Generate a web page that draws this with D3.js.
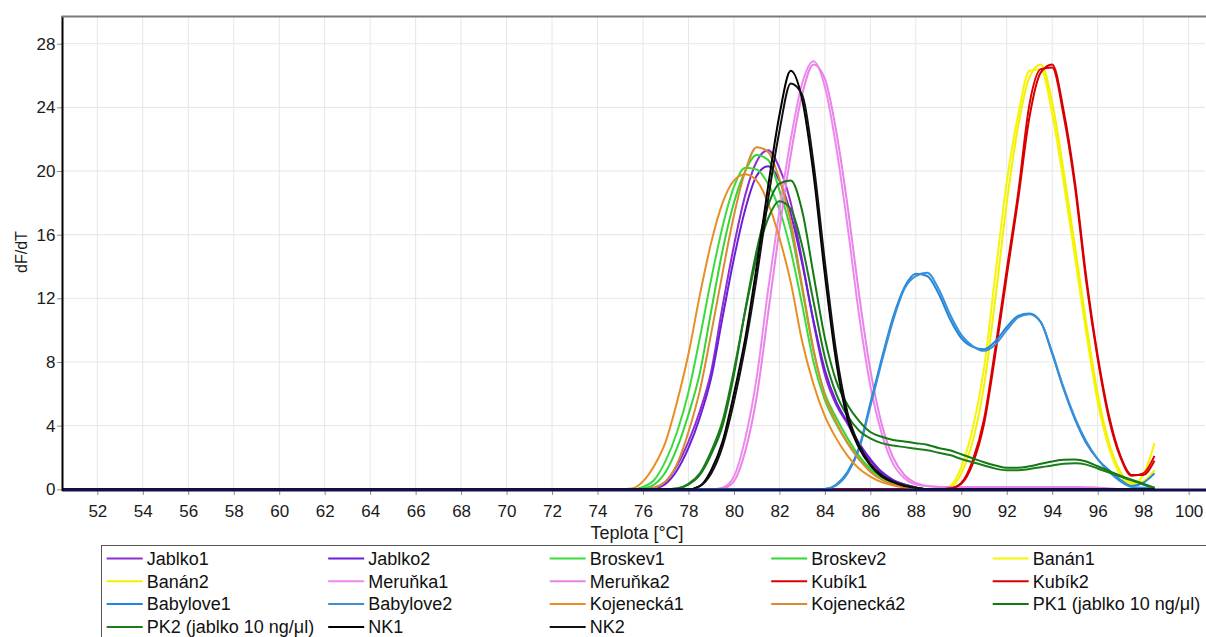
<!DOCTYPE html>
<html>
<head>
<meta charset="utf-8">
<script src="https://cdn.jsdelivr.net/npm/d3@7"></script>
<style>
  body { margin: 0; background: #fff; }
  svg { display: block; font-family: "Liberation Sans", Arial, sans-serif; }
</style>
</head>
<body>
<div id="chart"></div>
<script>
// melt curve samples, every 0.5 °C from 74 to 98.5 (flat zero before that)
const scanStart = 50.5;
const temps = [74, 74.5, 75, 75.5, 76, 76.5, 77, 77.5, 78, 78.5,
  79, 79.5, 80, 80.5, 81, 81.5, 82, 82.5, 83, 83.5,
  84, 84.5, 85, 85.5, 86, 86.5, 87, 87.5, 88, 88.5,
  89, 89.5, 90, 90.5, 91, 91.5, 92, 92.5, 93, 93.5,
  94, 94.5, 95, 95.5, 96, 96.5, 97, 97.5, 98, 98.5];

const names = ["Jablko1", "Jablko2", "Broskev1", "Broskev2", "Banán1",
  "Banán2", "Meruňka1", "Meruňka2", "Kubík1", "Kubík2",
  "Babylove1", "Babylove2", "Kojenecká1", "Kojenecká2", "PK1 (jablko 10 ng/μl)",
  "PK2 (jablko 10 ng/μl)", "NK1", "NK2"];

const colors = ["#8f2fd0", "#6a1fd8", "#3cdc3c", "#33d633", "#f6f600",
  "#f2f200", "#ee88ee", "#e883e8", "#e00000", "#d60000",
  "#1f86e0", "#3a90d6", "#e88e22", "#dc8a30", "#127a12",
  "#1c7c1c", "#000000", "#111111"];

const jablko1 = [0, 0, 0, 0, 0, 0.1, 0.5, 1.5, 3.0, 4.9,
  7.4, 11.5, 15.3, 18.5, 20.6, 21.3, 20.2, 18, 14.4, 10.5,
  7.2, 5.3, 4.1, 2.8, 1.8, 1.0, 0.55, 0.3, 0.12, 0,
  0, 0, 0, 0, 0, 0, 0, 0, 0, 0,
  0, 0, 0, 0, 0, 0, 0, 0, 0, 0];
const jablko2 = [0, 0, 0, 0, 0, 0.05, 0.35, 1.2, 2.6, 4.5,
  7.0, 10.8, 14.5, 17.6, 19.7, 20.3, 19.4, 17.3, 14.2, 10.6,
  7.5, 5.5, 4.2, 2.9, 1.9, 1.1, 0.6, 0.3, 0.12, 0,
  0, 0, 0, 0, 0, 0, 0, 0, 0, 0,
  0, 0, 0, 0, 0, 0, 0, 0, 0, 0];
const broskev1 = [0, 0, 0, 0, 0.15, 0.6, 1.8, 3.6, 6.1, 9.5,
  13.2, 16.5, 19, 20.2, 20.1, 19.2, 17.6, 15.0, 11.6, 8.0,
  5.6, 4.1, 2.9, 1.9, 1.2, 0.7, 0.4, 0.2, 0.1, 0,
  0, 0, 0, 0, 0, 0, 0, 0, 0, 0,
  0, 0, 0, 0, 0, 0, 0, 0, 0, 0];
const broskev2 = [0, 0, 0, 0, 0.05, 0.3, 1.1, 2.6, 4.7, 7.3,
  11.2, 15, 18, 20, 21, 20.7, 18.8, 16.3, 12.6, 8.7,
  6.0, 4.5, 3.2, 2.1, 1.3, 0.8, 0.45, 0.25, 0.1, 0,
  0, 0, 0, 0, 0, 0, 0, 0, 0, 0,
  0, 0, 0, 0, 0, 0, 0, 0, 0, 0];
const banan1 = [0, 0, 0, 0, 0, 0, 0, 0, 0, 0,
  0, 0, 0, 0, 0, 0, 0, 0, 0, 0,
  0, 0, 0, 0, 0, 0, 0, 0, 0, 0,
  0, 0.2, 1.4, 3.8, 7.6, 13.5, 19.3, 23.5, 26.3, 26.4,
  23.6, 19.3, 14.6, 9.8, 5.5, 2.6, 0.9, 0.3, 0.9, 2.9];
const banan2 = [0, 0, 0, 0, 0, 0, 0, 0, 0, 0,
  0, 0, 0, 0, 0, 0, 0, 0, 0, 0,
  0, 0, 0, 0, 0, 0, 0, 0, 0, 0,
  0, 0.1, 1.0, 3.0, 6.5, 12, 18, 22.8, 25.9, 26.7,
  24.3, 20, 15.3, 10.4, 6.0, 2.9, 1.1, 0.4, 0.5, 1.2];
const merunka1 = [0, 0, 0, 0, 0, 0, 0, 0, 0, 0,
  0, 0.1, 0.8, 3.2, 7.0, 12.5, 17.5, 22, 25.5, 26.9,
  25.3, 21.5, 16.5, 11, 6.5, 3.5, 1.6, 0.7, 0.3, 0.2,
  0.15, 0.15, 0.15, 0.15, 0.15, 0.15, 0.15, 0.15, 0.15, 0.15,
  0.15, 0.15, 0.15, 0.12, 0.1, 0.05, 0, 0, 0, 0];
const merunka2 = [0, 0, 0, 0, 0, 0, 0, 0, 0, 0,
  0, 0.05, 0.5, 2.4, 5.8, 11, 16.3, 21, 24.8, 26.7,
  25.8, 22.5, 17.8, 12.3, 7.5, 4.1, 2, 0.9, 0.4, 0.2,
  0.15, 0.15, 0.15, 0.15, 0.15, 0.15, 0.15, 0.15, 0.15, 0.15,
  0.15, 0.15, 0.15, 0.12, 0.1, 0.05, 0, 0, 0, 0];
const kubik1 = [0, 0, 0, 0, 0, 0, 0, 0, 0, 0,
  0, 0, 0, 0, 0, 0, 0, 0, 0, 0,
  0, 0, 0, 0, 0, 0, 0, 0, 0, 0,
  0, 0.05, 0.4, 1.8, 4.4, 8.9, 13.8, 18.6, 24.2, 26.4,
  26.5, 23.5, 19, 13, 8.2, 4.4, 2.0, 0.85, 1.0, 2.1];
const kubik2 = [0, 0, 0, 0, 0, 0, 0, 0, 0, 0,
  0, 0, 0, 0, 0, 0, 0, 0, 0, 0,
  0, 0, 0, 0, 0, 0, 0, 0, 0, 0,
  0, 0.05, 0.35, 1.6, 4.1, 8.5, 13.4, 18.2, 23.4, 26.2,
  26.7, 23.8, 19.3, 13.3, 8.4, 4.6, 2.1, 0.9, 0.9, 1.8];
const babylove1 = [0, 0, 0, 0, 0, 0, 0, 0, 0, 0,
  0, 0, 0, 0, 0, 0, 0, 0, 0, 0,
  0.02, 0.3, 1.1, 2.6, 5.4, 8.2, 10.8, 12.7, 13.55, 13.4,
  12.3, 10.7, 9.5, 8.95, 8.8, 9.3, 10.2, 10.9, 11.05, 10.5,
  8.5, 6.3, 4.4, 2.9, 1.9, 1.2, 0.6, 0.2, 0.4, 1.0];
const babylove2 = [0, 0, 0, 0, 0, 0, 0, 0, 0, 0,
  0, 0, 0, 0, 0, 0, 0, 0, 0, 0,
  0.02, 0.25, 1.0, 2.5, 5.2, 8.0, 10.6, 12.6, 13.4, 13.6,
  12.6, 11.0, 9.7, 9.0, 8.7, 9.1, 10.0, 10.8, 11.0, 10.5,
  8.6, 6.4, 4.5, 3.0, 1.9, 1.1, 0.5, 0.15, 0.1, 0.1];
const kojenecka1 = [0, 0, 0, 0.05, 0.5, 1.5, 3.0, 5.5, 8.5, 12.2,
  15.5, 18, 19.4, 19.8, 19.4, 18, 15.8, 13, 9.3, 6.6,
  4.6, 3.2, 2.1, 1.3, 0.8, 0.45, 0.25, 0.12, 0.05, 0,
  0, 0, 0, 0, 0, 0, 0, 0, 0, 0,
  0, 0, 0, 0, 0, 0, 0, 0, 0, 0];
const kojenecka2 = [0, 0, 0, 0, 0, 0.1, 0.5, 1.6, 3.6, 6.2,
  9.8, 13.6, 17.2, 20, 21.5, 21.2, 19.5, 16.8, 12.8, 8.8,
  5.9, 4.2, 2.9, 1.9, 1.1, 0.6, 0.3, 0.15, 0.05, 0,
  0, 0, 0, 0, 0, 0, 0, 0, 0, 0,
  0, 0, 0, 0, 0, 0, 0, 0, 0, 0];
const pk1 = [0, 0, 0, 0, 0, 0, 0, 0.05, 0.3, 0.9,
  2.2, 4.0, 7.2, 11.3, 15, 17.8, 19.2, 19.4, 17.5, 13.5,
  9.5, 6.8, 5.3, 4.3, 3.6, 3.3, 3.1, 3.0, 2.9, 2.8,
  2.6, 2.45, 2.2, 1.95, 1.7, 1.5, 1.35, 1.35, 1.45, 1.6,
  1.75, 1.85, 1.88, 1.75, 1.45, 1.15, 0.85, 0.6, 0.35, 0.1];
const pk2 = [0, 0, 0, 0, 0, 0, 0, 0.05, 0.35, 1.0,
  2.4, 4.3, 7.5, 11.2, 14.6, 17, 18.1, 17.6, 15.3, 11.8,
  8.3, 6.0, 4.6, 3.7, 3.2, 2.9, 2.75, 2.65, 2.55, 2.45,
  2.3, 2.15, 1.9, 1.7, 1.5, 1.3, 1.2, 1.2, 1.28, 1.38,
  1.5, 1.6, 1.63, 1.55, 1.3, 1.05, 0.8, 0.55, 0.3, 0.08];
const nk1 = [0, 0, 0, 0, 0, 0, 0, 0, 0, 0.2,
  1.2, 3, 6, 9.5, 14, 19, 23.5, 26.3, 24.5, 19.8,
  13.5, 8, 4.4, 2.6, 1.5, 0.8, 0.45, 0.2, 0.1, 0,
  0, 0, 0, 0, 0, 0, 0, 0, 0, 0,
  0, 0, 0, 0, 0, 0, 0, 0, 0, 0];
const nk2 = [0, 0, 0, 0, 0, 0, 0, 0, 0, 0.2,
  1.0, 2.7, 5.5, 9, 13.3, 18.2, 22.5, 25.5, 24.8, 20.5,
  14.3, 8.6, 4.8, 2.8, 1.6, 0.9, 0.5, 0.25, 0.1, 0,
  0, 0, 0, 0, 0, 0, 0, 0, 0, 0,
  0, 0, 0, 0, 0, 0, 0, 0, 0, 0];

const seriesValues = [jablko1, jablko2, broskev1, broskev2, banan1,
  banan2, merunka1, merunka2, kubik1, kubik2,
  babylove1, babylove2, kojenecka1, kojenecka2, pk1,
  pk2, nk1, nk2];

const xTicks = [52, 54, 56, 58, 60, 62, 64, 66, 68, 70, 72, 74, 76,
  78, 80, 82, 84, 86, 88, 90, 92, 94, 96, 98, 100];
const yTicks = [0, 4, 8, 12, 16, 20, 24, 28];

const width = 1206, height = 637;
const plot = { left: 63, right: 1205, top: 16, bottom: 489.3 };

const svg = d3.select("#chart").append("svg")
  .attr("width", width)
  .attr("height", height);

const x = d3.scaleLinear().domain([50.49, 100.72]).range([plot.left, plot.right]);
const y = d3.scaleLinear().domain([0, 29.74]).range([plot.bottom, plot.top]);

svg.append("defs").append("clipPath").attr("id", "clip")
  .append("rect")
  .attr("x", plot.left).attr("y", plot.top)
  .attr("width", plot.right - plot.left)
  .attr("height", plot.bottom - plot.top + 4);

// grid
svg.append("g").selectAll("line").data(xTicks).join("line")
  .attr("x1", d => x(d)).attr("x2", d => x(d))
  .attr("y1", plot.top).attr("y2", plot.bottom)
  .attr("stroke", "#e6e6e6").attr("stroke-width", 1);
svg.append("g").selectAll("line").data(yTicks.filter(d => d > 0)).join("line")
  .attr("x1", plot.left).attr("x2", plot.right)
  .attr("y1", d => y(d)).attr("y2", d => y(d))
  .attr("stroke", "#e6e6e6").attr("stroke-width", 1);

// axes
const xAxis = svg.append("g")
  .attr("transform", `translate(0,${plot.bottom + 0.7})`)
  .call(d3.axisBottom(x).tickValues(xTicks).tickSize(5).tickPadding(10));
const yAxis = svg.append("g")
  .attr("transform", `translate(${plot.left},0)`)
  .call(d3.axisLeft(y).tickValues(yTicks).tickSize(6).tickPadding(1.5));
[xAxis, yAxis].forEach(g => {
  g.select(".domain").remove();
  g.selectAll(".tick line").attr("stroke", "#8a8a8a");
  g.selectAll(".tick text")
    .attr("fill", "#1a1a1a")
    .style("font-size", "17px")
    .style("font-family", "'Liberation Sans', Arial, sans-serif");
});

// curves
const line = d3.line()
  .x(d => x(d[0]))
  .y(d => y(d[1]))
  .curve(d3.curveMonotoneX);

svg.append("g").attr("clip-path", "url(#clip)")
  .selectAll("path")
  .data(seriesValues)
  .join("path")
  .attr("fill", "none")
  .attr("stroke", (d, i) => colors[i])
  .attr("stroke-width", 2)
  .attr("stroke-linejoin", "round")
  .attr("d", vals => line([[scanStart, 0]].concat(temps.map((t, i) => [t, vals[i]]))));

// frame: dark baseline, black left axis, gray top edge
svg.append("line")
  .attr("x1", plot.left).attr("x2", width)
  .attr("y1", y(0) + 0.6).attr("y2", y(0) + 0.6)
  .attr("stroke", "#10104e").attr("stroke-width", 3);
svg.append("line")
  .attr("x1", plot.left - 0.5).attr("x2", plot.left - 0.5)
  .attr("y1", plot.top).attr("y2", plot.bottom + 2)
  .attr("stroke", "#000").attr("stroke-width", 2);
svg.append("line")
  .attr("x1", plot.left - 1.5).attr("x2", width)
  .attr("y1", plot.top + 0.5).attr("y2", plot.top + 0.5)
  .attr("stroke", "#7a7a7a").attr("stroke-width", 2);

// axis titles
svg.append("text")
  .attr("transform", "translate(21,252) rotate(-90)")
  .attr("text-anchor", "middle")
  .attr("dy", "0.35em")
  .style("font-size", "16px")
  .attr("fill", "#1a1a1a")
  .text("dF/dT");

svg.append("text")
  .attr("x", 637).attr("y", 533)
  .attr("text-anchor", "middle")
  .attr("dy", "0.35em")
  .style("font-size", "18px")
  .attr("fill", "#1a1a1a")
  .text("Teplota [°C]");

// legend
const legend = svg.append("g");
legend.append("rect")
  .attr("x", 101.5).attr("y", 545.5)
  .attr("width", 1120).attr("height", 120)
  .attr("fill", "#fff")
  .attr("stroke", "#555").attr("stroke-width", 1);

const items = legend.selectAll("g.item")
  .data(names)
  .join("g")
  .attr("class", "item")
  .attr("transform", (d, i) => `translate(${106.7 + (i % 5) * 221.5},${558.5 + Math.floor(i / 5) * 22.8})`);

items.append("line")
  .attr("x1", 0).attr("x2", 36)
  .attr("stroke", (d, i) => colors[i])
  .attr("stroke-width", 2);

items.append("text")
  .attr("x", 40)
  .attr("dy", "0.35em")
  .style("font-size", "18px")
  .attr("fill", "#111")
  .text(d => d);
</script>
</body>
</html>
